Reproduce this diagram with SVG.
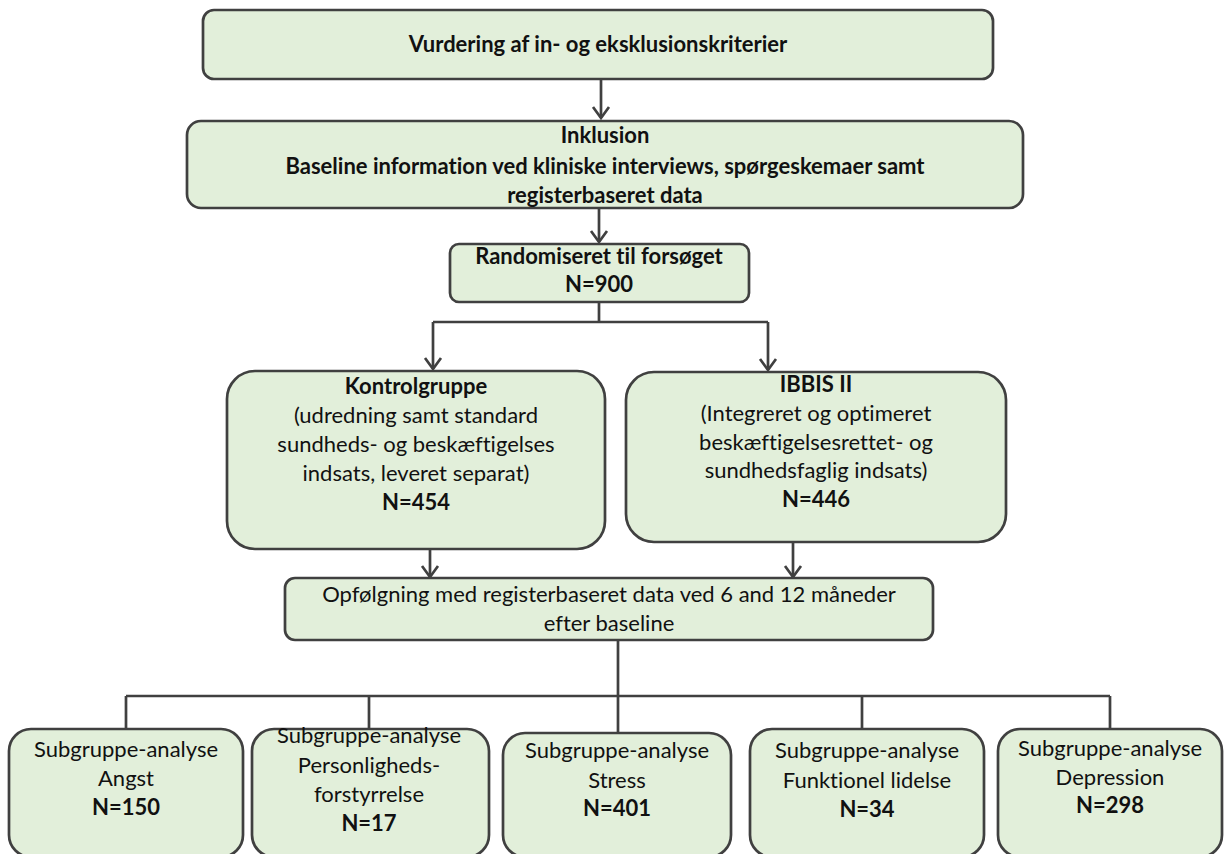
<svg xmlns="http://www.w3.org/2000/svg" width="1224" height="854" viewBox="0 0 1224 854">
<defs>
<style>
.box{fill:#e2efda;stroke:#404040;stroke-width:2.7}
.t{font-family:Lato,"Liberation Sans",sans-serif;font-size:22px;fill:#111;text-anchor:middle;font-variant-ligatures:none;font-feature-settings:"liga" 0,"clig" 0,"dlig" 0}
.b{font-weight:bold}
.c{stroke:#404040;stroke-width:2.7;fill:none}
</style>
<marker id="ah" markerUnits="userSpaceOnUse" markerWidth="16" markerHeight="22" refX="12" refY="10" orient="auto" overflow="visible">
<path d="M1,2 L12,10 L1,18" fill="none" stroke="#404040" stroke-width="2.7"/>
</marker>
</defs>
<rect width="1224" height="854" fill="#fff"/>
<g id="connectors">
<line class="c" x1="601" y1="79" x2="601" y2="118" marker-end="url(#ah)"/>
<line class="c" x1="599" y1="208" x2="599" y2="242" marker-end="url(#ah)"/>
<path class="c" d="M599,302 V322 M433,322 H768"/>
<line class="c" x1="433" y1="322" x2="433" y2="369" marker-end="url(#ah)"/>
<line class="c" x1="768" y1="322" x2="768" y2="370" marker-end="url(#ah)"/>
<line class="c" x1="430" y1="549" x2="430" y2="577" marker-end="url(#ah)"/>
<line class="c" x1="793" y1="542" x2="793" y2="577" marker-end="url(#ah)"/>
<path class="c" d="M618,640 V733 M126,696 H1110 M126,696 V729 M369,696 V729 M862,696 V729 M1110,696 V729"/>
</g>
<g id="n1">
<rect class="box" x="203" y="10" width="790" height="69" rx="11"/>
<text class="t b" x="598" y="52">Vurdering af in- og eksklusionskriterier</text>
</g>
<g id="n2">
<rect class="box" x="187" y="121" width="836" height="87" rx="14"/>
<text class="t b" x="605" y="143">Inklusion</text>
<text class="t b" x="605" y="174">Baseline information ved kliniske interviews, spørgeskemaer samt</text>
<text class="t b" x="605" y="203">registerbaseret data</text>
</g>
<g id="n3">
<rect class="box" x="450" y="244" width="299" height="58" rx="9"/>
<text class="t b" x="599" y="264">Randomiseret til forsøget</text>
<text class="t b" x="599" y="292">N=900</text>
</g>
<g id="n4">
<rect class="box" x="227" y="371" width="378" height="178" rx="28"/>
<text class="t b" x="416" y="394">Kontrolgruppe</text>
<text class="t" x="416" y="423">(udredning samt standard</text>
<text class="t" x="416" y="452">sundheds- og beskæftigelses</text>
<text class="t" x="416" y="481">indsats, leveret separat)</text>
<text class="t b" x="416" y="510">N=454</text>
</g>
<g id="n5">
<rect class="box" x="626" y="372" width="380" height="170" rx="28"/>
<text class="t b" x="816" y="392">IBBIS II</text>
<text class="t" x="816" y="421">(Integreret og optimeret</text>
<text class="t" x="816" y="450">beskæftigelsesrettet- og</text>
<text class="t" x="816" y="478">sundhedsfaglig indsats)</text>
<text class="t b" x="816" y="507">N=446</text>
</g>
<g id="n6">
<rect class="box" x="285" y="578" width="648" height="62" rx="10"/>
<text class="t" x="609" y="602">Opfølgning med registerbaseret data ved 6 and 12 måneder</text>
<text class="t" x="609" y="631">efter baseline</text>
</g>
<g id="n7">
<rect class="box" x="9" y="729" width="234" height="128" rx="22"/>
<text class="t" x="126" y="757">Subgruppe-analyse</text>
<text class="t" x="126" y="786">Angst</text>
<text class="t b" x="126" y="815">N=150</text>
</g>
<g id="n8">
<rect class="box" x="252" y="729" width="237" height="128" rx="22"/>
<text class="t" x="369" y="743">Subgruppe-analyse</text>
<text class="t" x="369" y="773">Personligheds-</text>
<text class="t" x="369" y="802">forstyrrelse</text>
<text class="t b" x="369" y="831">N=17</text>
</g>
<g id="n9">
<rect class="box" x="503" y="733" width="228" height="124" rx="22"/>
<text class="t" x="617" y="758">Subgruppe-analyse</text>
<text class="t" x="617" y="788">Stress</text>
<text class="t b" x="617" y="816">N=401</text>
</g>
<g id="n10">
<rect class="box" x="750" y="729" width="234" height="128" rx="22"/>
<text class="t" x="867" y="758">Subgruppe-analyse</text>
<text class="t" x="867" y="788">Funktionel lidelse</text>
<text class="t b" x="867" y="817">N=34</text>
</g>
<g id="n11">
<rect class="box" x="998" y="729" width="224" height="128" rx="22"/>
<text class="t" x="1110" y="756">Subgruppe-analyse</text>
<text class="t" x="1110" y="785">Depression</text>
<text class="t b" x="1110" y="813">N=298</text>
</g>
</svg>
